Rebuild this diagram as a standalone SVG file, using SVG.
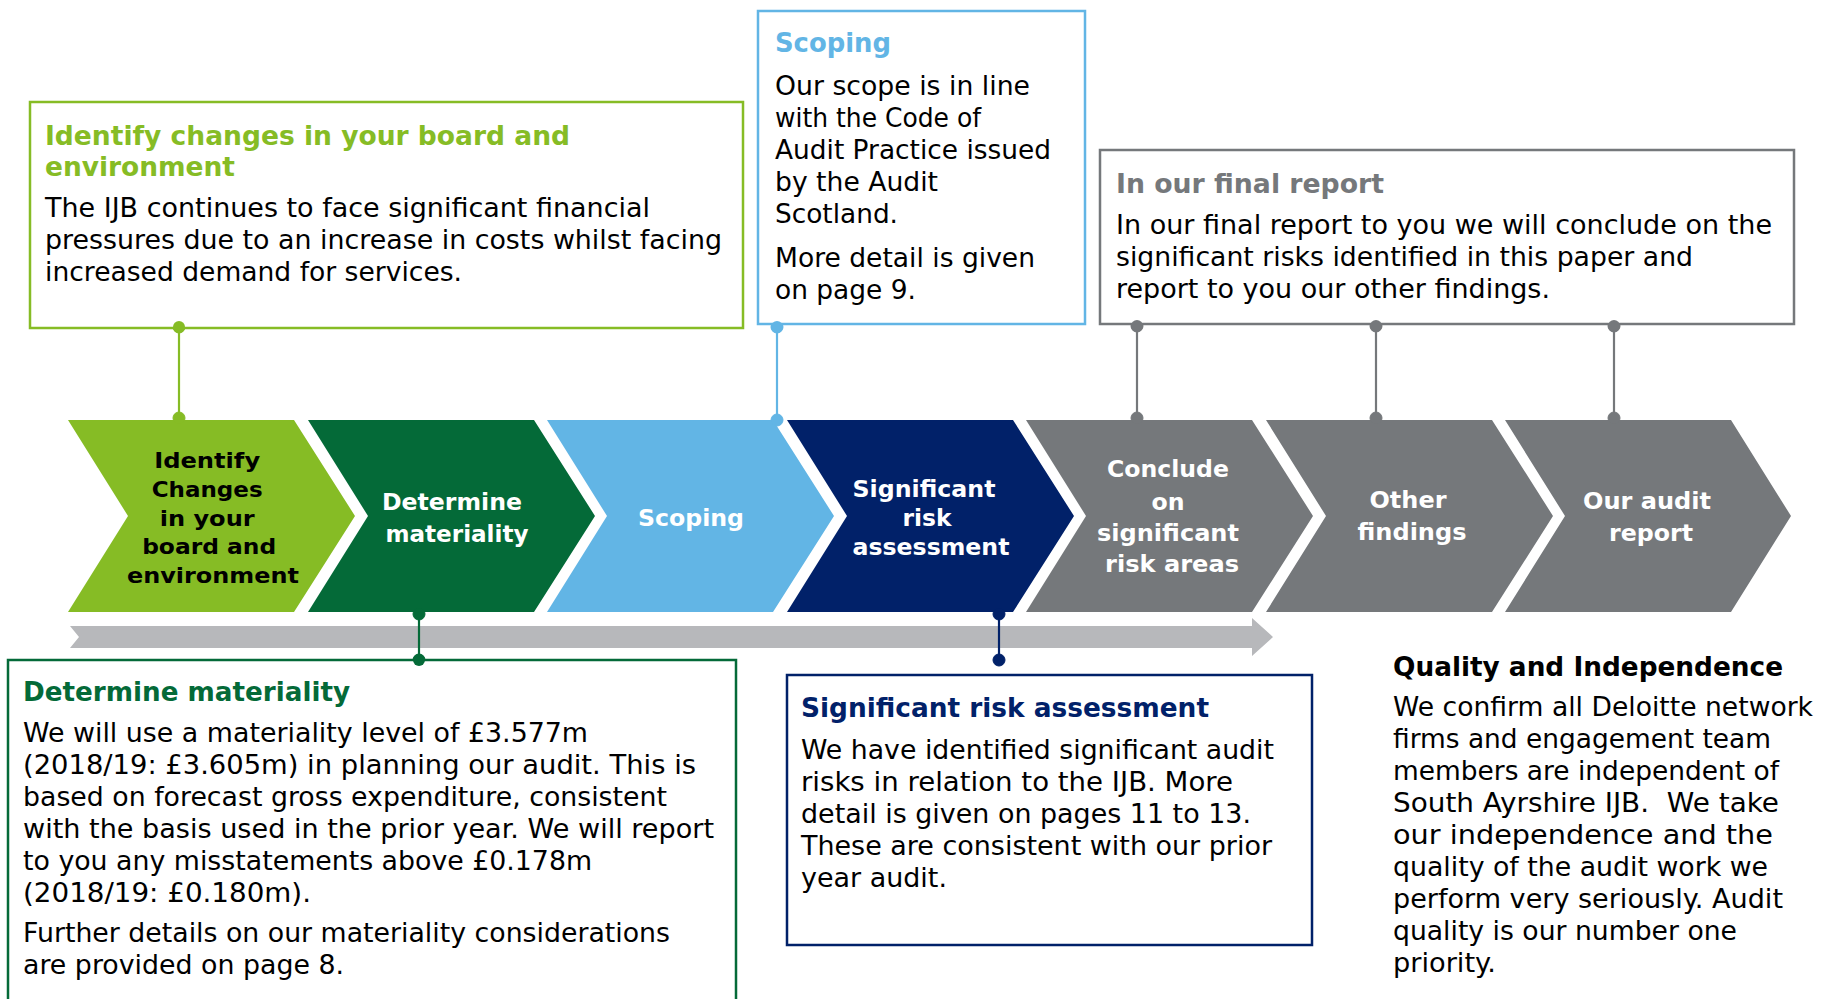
<svg xmlns="http://www.w3.org/2000/svg" width="1821" height="999" viewBox="0 0 1821 999">
<style>
.t{font-family:"DejaVu Sans","Liberation Sans",sans-serif;font-size:26px;fill:#000}
.h{font-family:"DejaVu Sans","Liberation Sans",sans-serif;font-size:26px;font-weight:bold}
.c{font-family:"DejaVu Sans","Liberation Sans",sans-serif;font-size:23px;font-weight:bold;text-anchor:middle;fill:#fff}
.box{fill:#fff;stroke-width:2.5}
.ln{stroke-width:2.2;fill:none}
</style>
<rect width="1821" height="999" fill="#fff"/>

<!-- gray timeline arrow -->
<g id="timeline">
<polygon points="70,626 1252,626 1252,618 1273,637 1252,656 1252,648 70,648 79,637" fill="#B7B8BB"/>
</g>

<!-- chevrons -->
<g id="chev1">
<polygon points="68,420 294,420 355,516 294,612 68,612 128,516" fill="#86BC25"/>
<text class="c" style="fill:#000;font-size:22px">
<tspan x="211" y="468" textLength="106" lengthAdjust="spacingAndGlyphs">Identify</tspan>
<tspan x="211" y="497" textLength="111" lengthAdjust="spacingAndGlyphs">Changes</tspan>
<tspan x="211" y="526" textLength="95" lengthAdjust="spacingAndGlyphs">in your</tspan>
<tspan x="213" y="554" textLength="134" lengthAdjust="spacingAndGlyphs">board and</tspan>
<tspan x="213" y="583" textLength="172" lengthAdjust="spacingAndGlyphs">environment</tspan>
</text>
</g>
<g id="chev2">
<polygon points="308,420 534,420 595,516 534,612 308,612 368,516" fill="#046A38"/>
<text class="c">
<tspan x="456" y="510" textLength="140" lengthAdjust="spacingAndGlyphs">Determine</tspan>
<tspan x="457" y="542" textLength="143" lengthAdjust="spacingAndGlyphs">materiality</tspan>
</text>
</g>
<g id="chev3">
<polygon points="547,420 773,420 834,516 773,612 547,612 607,516" fill="#62B5E5"/>
<text class="c"><tspan x="691" y="526" textLength="106" lengthAdjust="spacingAndGlyphs">Scoping</tspan></text>
</g>
<g id="chev4">
<polygon points="787,420 1013,420 1074,516 1013,612 787,612 847,516" fill="#012169"/>
<text class="c">
<tspan x="928" y="497" textLength="143" lengthAdjust="spacingAndGlyphs">Significant</tspan>
<tspan x="931" y="526" textLength="49" lengthAdjust="spacingAndGlyphs">risk</tspan>
<tspan x="931" y="555" textLength="157" lengthAdjust="spacingAndGlyphs">assessment</tspan>
</text>
</g>
<g id="chev5">
<polygon points="1026,420 1252,420 1313,516 1252,612 1026,612 1086,516" fill="#75787B"/>
<text class="c">
<tspan x="1172" y="477" textLength="122" lengthAdjust="spacingAndGlyphs">Conclude</tspan>
<tspan x="1172" y="510" textLength="33" lengthAdjust="spacingAndGlyphs">on</tspan>
<tspan x="1172" y="541" textLength="142" lengthAdjust="spacingAndGlyphs">significant</tspan>
<tspan x="1172" y="572" textLength="134" lengthAdjust="spacingAndGlyphs">risk areas</tspan>
</text>
</g>
<g id="chev6">
<polygon points="1266,420 1492,420 1553,516 1492,612 1266,612 1326,516" fill="#75787B"/>
<text class="c">
<tspan x="1412" y="508" textLength="77" lengthAdjust="spacingAndGlyphs">Other</tspan>
<tspan x="1412" y="540" textLength="109" lengthAdjust="spacingAndGlyphs">findings</tspan>
</text>
</g>
<g id="chev7">
<polygon points="1505,420 1731,420 1791,516 1731,612 1505,612 1565,516" fill="#75787B"/>
<text class="c">
<tspan x="1651" y="509" textLength="128" lengthAdjust="spacingAndGlyphs">Our audit</tspan>
<tspan x="1651" y="541" textLength="84" lengthAdjust="spacingAndGlyphs">report</tspan>
</text>
</g>

<!-- connectors -->
<g id="connectors">
<g stroke="#86BC25" fill="#86BC25"><line class="ln" x1="179" y1="327" x2="179" y2="418"/><circle cx="179" cy="327" r="6"/><circle cx="179" cy="418" r="6"/></g>
<g stroke="#62B5E5" fill="#62B5E5"><line class="ln" x1="777" y1="327" x2="777" y2="420"/><circle cx="777" cy="327" r="6"/><circle cx="777" cy="420" r="6"/></g>
<g stroke="#75787B" fill="#75787B">
<line class="ln" x1="1137" y1="326" x2="1137" y2="418"/><circle cx="1137" cy="326" r="6"/><circle cx="1137" cy="418" r="6"/>
<line class="ln" x1="1376" y1="326" x2="1376" y2="418"/><circle cx="1376" cy="326" r="6"/><circle cx="1376" cy="418" r="6"/>
<line class="ln" x1="1614" y1="326" x2="1614" y2="418"/><circle cx="1614" cy="326" r="6"/><circle cx="1614" cy="418" r="6"/>
</g>
<g stroke="#046A38" fill="#046A38"><line class="ln" x1="419" y1="614" x2="419" y2="660"/><circle cx="419" cy="614" r="6"/><circle cx="419" cy="660" r="6"/></g>
<g stroke="#012169" fill="#012169"><line class="ln" x1="999" y1="614" x2="999" y2="660"/><circle cx="999" cy="614" r="6"/><circle cx="999" cy="660" r="6"/></g>
</g>

<!-- green top box -->
<g id="box-identify">
<rect class="box" x="30" y="102" width="713" height="226" stroke="#86BC25"/>
<circle cx="179" cy="327" r="6" fill="#86BC25"/>
<text class="h" fill="#86BC25">
<tspan x="45" y="145" textLength="525" lengthAdjust="spacingAndGlyphs">Identify changes in your board and</tspan>
<tspan x="45" y="176" textLength="190" lengthAdjust="spacingAndGlyphs">environment</tspan>
</text>
<text class="t">
<tspan x="45" y="217" textLength="605" lengthAdjust="spacingAndGlyphs">The IJB continues to face significant financial</tspan>
<tspan x="45" y="249" textLength="677" lengthAdjust="spacingAndGlyphs">pressures due to an increase in costs whilst facing</tspan>
<tspan x="45" y="281" textLength="417" lengthAdjust="spacingAndGlyphs">increased demand for services.</tspan>
</text>
</g>

<!-- scoping box -->
<g id="box-scoping">
<rect class="box" x="758" y="11" width="327" height="313" stroke="#62B5E5"/>
<circle cx="777" cy="327" r="6" fill="#62B5E5"/>
<text class="h" fill="#62B5E5"><tspan x="775" y="52" textLength="116" lengthAdjust="spacingAndGlyphs">Scoping</tspan></text>
<text class="t">
<tspan x="775" y="95" textLength="255" lengthAdjust="spacingAndGlyphs">Our scope is in line</tspan>
<tspan x="775" y="127" textLength="206" lengthAdjust="spacingAndGlyphs">with the Code of</tspan>
<tspan x="775" y="159" textLength="276" lengthAdjust="spacingAndGlyphs">Audit Practice issued</tspan>
<tspan x="775" y="191" textLength="163" lengthAdjust="spacingAndGlyphs">by the Audit</tspan>
<tspan x="775" y="223" textLength="123" lengthAdjust="spacingAndGlyphs">Scotland.</tspan>
<tspan x="775" y="267" textLength="260" lengthAdjust="spacingAndGlyphs">More detail is given</tspan>
<tspan x="775" y="299" textLength="141" lengthAdjust="spacingAndGlyphs">on page 9.</tspan>
</text>
</g>

<!-- final report box -->
<g id="box-final">
<rect class="box" x="1100" y="150" width="694" height="174" stroke="#75787B"/>
<circle cx="1137" cy="326" r="6" fill="#75787B"/>
<circle cx="1376" cy="326" r="6" fill="#75787B"/>
<circle cx="1614" cy="326" r="6" fill="#75787B"/>
<text class="h" fill="#75787B"><tspan x="1116" y="193" textLength="268" lengthAdjust="spacingAndGlyphs">In our final report</tspan></text>
<text class="t">
<tspan x="1116" y="234" textLength="656" lengthAdjust="spacingAndGlyphs">In our final report to you we will conclude on the</tspan>
<tspan x="1116" y="266" textLength="577" lengthAdjust="spacingAndGlyphs">significant risks identified in this paper and</tspan>
<tspan x="1116" y="298" textLength="434" lengthAdjust="spacingAndGlyphs">report to you our other findings.</tspan>
</text>
</g>

<!-- materiality box -->
<g id="box-materiality">
<rect class="box" x="8" y="660" width="728" height="360" stroke="#046A38"/>
<circle cx="419" cy="660" r="6" fill="#046A38"/>
<text class="h" fill="#046A38"><tspan x="23" y="701" textLength="327" lengthAdjust="spacingAndGlyphs">Determine materiality</tspan></text>
<text class="t">
<tspan x="23" y="742" textLength="565" lengthAdjust="spacingAndGlyphs">We will use a materiality level of £3.577m</tspan>
<tspan x="23" y="774" textLength="673" lengthAdjust="spacingAndGlyphs">(2018/19: £3.605m) in planning our audit. This is</tspan>
<tspan x="23" y="806" textLength="644" lengthAdjust="spacingAndGlyphs">based on forecast gross expenditure, consistent</tspan>
<tspan x="23" y="838" textLength="691" lengthAdjust="spacingAndGlyphs">with the basis used in the prior year. We will report</tspan>
<tspan x="23" y="870" textLength="569" lengthAdjust="spacingAndGlyphs">to you any misstatements above £0.178m</tspan>
<tspan x="23" y="902" textLength="288" lengthAdjust="spacingAndGlyphs">(2018/19: £0.180m).</tspan>
<tspan x="23" y="942" textLength="647" lengthAdjust="spacingAndGlyphs">Further details on our materiality considerations</tspan>
<tspan x="23" y="974" textLength="321" lengthAdjust="spacingAndGlyphs">are provided on page 8.</tspan>
</text>
</g>

<!-- significant risk box -->
<g id="box-risk">
<rect class="box" x="787" y="675" width="525" height="270" stroke="#012169"/>
<text class="h" fill="#012169"><tspan x="801" y="717" textLength="408" lengthAdjust="spacingAndGlyphs">Significant risk assessment</tspan></text>
<text class="t">
<tspan x="801" y="759" textLength="473" lengthAdjust="spacingAndGlyphs">We have identified significant audit</tspan>
<tspan x="801" y="791" textLength="432" lengthAdjust="spacingAndGlyphs">risks in relation to the IJB. More</tspan>
<tspan x="801" y="823" textLength="450" lengthAdjust="spacingAndGlyphs">detail is given on pages 11 to 13.</tspan>
<tspan x="801" y="855" textLength="471" lengthAdjust="spacingAndGlyphs">These are consistent with our prior</tspan>
<tspan x="801" y="887" textLength="146" lengthAdjust="spacingAndGlyphs">year audit.</tspan>
</text>
</g>

<!-- quality -->
<g id="quality">
<text class="h" fill="#000"><tspan x="1393" y="676" textLength="390" lengthAdjust="spacingAndGlyphs">Quality and Independence</tspan></text>
<text class="t">
<tspan x="1393" y="716" textLength="420" lengthAdjust="spacingAndGlyphs">We confirm all Deloitte network</tspan>
<tspan x="1393" y="748" textLength="378" lengthAdjust="spacingAndGlyphs">firms and engagement team</tspan>
<tspan x="1393" y="780" textLength="386" lengthAdjust="spacingAndGlyphs">members are independent of</tspan>
<tspan x="1393" y="812" textLength="386" lengthAdjust="spacingAndGlyphs" xml:space="preserve">South Ayrshire IJB.  We take</tspan>
<tspan x="1393" y="844" textLength="380" lengthAdjust="spacingAndGlyphs">our independence and the</tspan>
<tspan x="1393" y="876" textLength="375" lengthAdjust="spacingAndGlyphs">quality of the audit work we</tspan>
<tspan x="1393" y="908" textLength="390" lengthAdjust="spacingAndGlyphs">perform very seriously. Audit</tspan>
<tspan x="1393" y="940" textLength="344" lengthAdjust="spacingAndGlyphs">quality is our number one</tspan>
<tspan x="1393" y="972" textLength="103" lengthAdjust="spacingAndGlyphs">priority.</tspan>
</text>
</g>
</svg>
